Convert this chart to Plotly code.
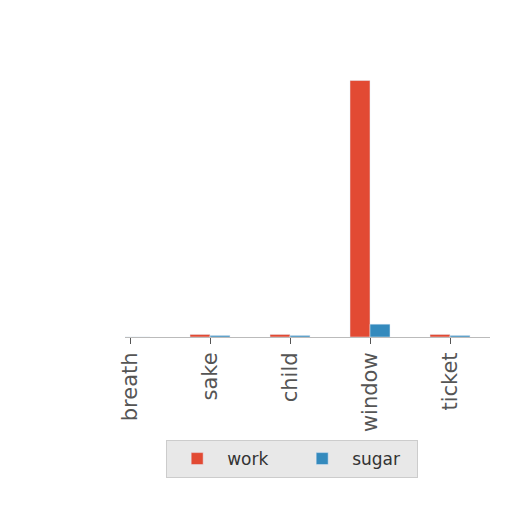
import plotly.graph_objects as go

categories = ["breath", "sake", "child", "window", "ticket"]
work = [0, 1, 1, 100, 1]
sugar = [0, 0.6, 0.6, 5, 0.6]

fig = go.Figure()
fig.add_trace(go.Bar(x=categories, y=work, name="work", marker_color="#E24A33"))
fig.add_trace(go.Bar(x=categories, y=sugar, name="sugar", marker_color="#348ABD"))

fig.update_layout(
    width=512, height=512,
    barmode="group", bargap=0.5, bargroupgap=0,
    paper_bgcolor="white", plot_bgcolor="white",
    margin=dict(l=117, r=30, t=52, b=183),
    font=dict(family="DejaVu Sans", color="#555555"),
    legend=dict(orientation="h", x=0.458, xanchor="center", y=-0.372, yanchor="top",
                bgcolor="#e8e8e8", bordercolor="#cccccc", borderwidth=1,
                itemwidth=50, entrywidth=60, entrywidthmode="pixels",
                font=dict(size=17, color="#333333")),
    xaxis=dict(range=[-0.0625, 4.5], tickangle=-90, tickfont=dict(size=21, color="#555555"),
               ticks="outside", ticklen=6, tickcolor="#555555", showline=True,
               linecolor="#bbbbbb", linewidth=1, showgrid=False),
    yaxis=dict(range=[0, 108], visible=False, showgrid=False, zeroline=False),
)
fig.write_html("out.html")
